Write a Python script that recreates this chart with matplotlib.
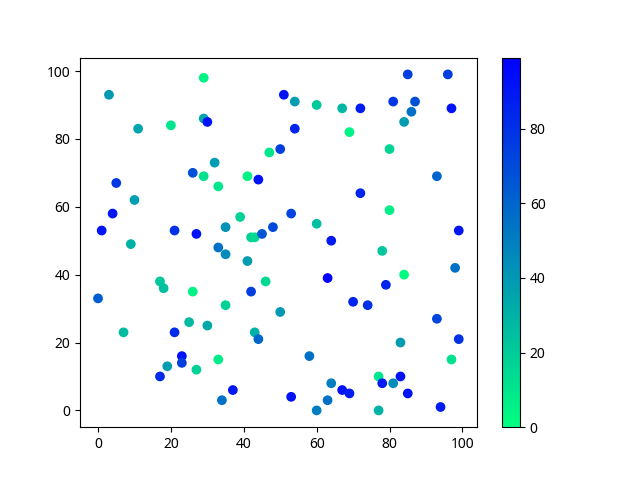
import matplotlib
matplotlib.use("Agg")
import matplotlib.pyplot as plt

plt.rcParams['font.family'] = ['Noto Sans', 'DejaVu Sans']

x = [0, 1, 3, 4, 5, 7, 9, 10, 11, 17, 17, 18, 19, 20, 21, 21, 23, 23, 25, 26,
     26, 27, 27, 29, 29, 30, 29, 30, 32, 33, 33, 33, 34, 35, 35, 35, 37, 39, 41, 41,
     42, 43, 42, 43, 44, 44, 45, 46, 47, 48, 50, 50, 51, 53, 53, 54, 54, 58, 60, 60,
     60, 63, 63, 64, 64, 67, 67, 69, 69, 70, 72, 72, 74, 77, 77, 78, 78, 79, 80, 80,
     81, 81, 83, 83, 84, 84, 85, 85, 86, 87, 93, 93, 94, 96, 97, 97, 98, 99, 99]
y = [33, 53, 93, 58, 67, 23, 49, 62, 83, 10, 38, 36, 13, 84, 53, 23, 16, 14, 26, 35,
     70, 52, 12, 98, 86, 85, 69, 25, 73, 66, 48, 15, 3, 54, 46, 31, 6, 57, 69, 44,
     51, 51, 35, 23, 21, 68, 52, 38, 76, 54, 77, 29, 93, 4, 58, 91, 83, 16, 90, 0,
     55, 3, 39, 50, 8, 89, 6, 5, 82, 32, 89, 64, 31, 10, 0, 47, 8, 37, 77, 59,
     8, 91, 20, 10, 85, 40, 5, 99, 88, 91, 69, 27, 1, 99, 89, 15, 42, 53, 21]
c = [62, 92, 40, 90, 78, 27, 30, 38, 35, 82, 22, 25, 38, 10, 80, 82, 92, 75, 27, 5,
     68, 92, 18, 5, 35, 92, 12, 33, 38, 10, 55, 7, 55, 42, 45, 18, 90, 18, 5, 38,
     18, 15, 75, 30, 60, 92, 65, 15, 10, 70, 75, 40, 92, 92, 73, 38, 85, 55, 22, 50,
     25, 55, 99, 88, 50, 28, 92, 88, 5, 85, 88, 85, 80, 10, 30, 22, 88, 85, 17, 7,
     45, 78, 38, 92, 38, 0, 92, 75, 55, 68, 60, 72, 88, 75, 92, 12, 55, 90, 80]

fig, ax = plt.subplots(figsize=(6.4, 4.8), dpi=100)
sc = ax.scatter(x, y, c=c, cmap='winter_r')
fig.colorbar(sc)
fig.savefig("out.png")
